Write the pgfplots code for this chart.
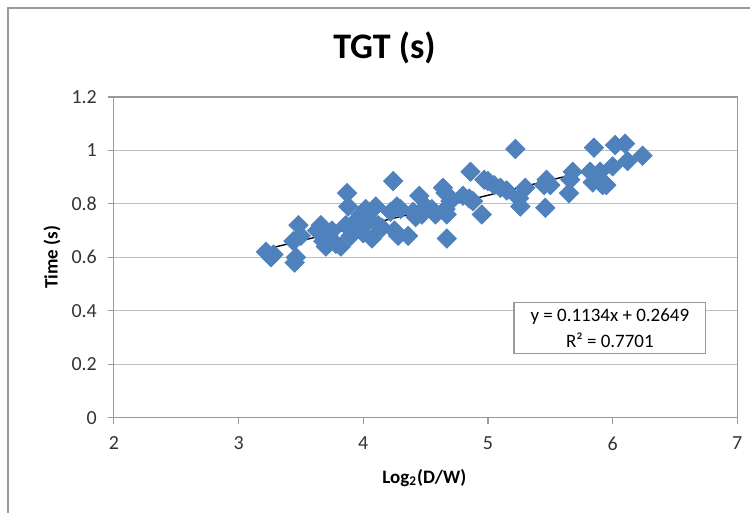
\documentclass[border=0pt]{standalone}
\usepackage{pgfplots}
\pgfplotsset{compat=1.18}
\usepackage{fontspec}
\setmainfont{Carlito}
\definecolor{xlblue}{HTML}{4F81BD}
\definecolor{xlgrid}{HTML}{BEBEBE}
\definecolor{xlaxis}{HTML}{9A9A9A}

\pgfplotstableread{
x y
3.22 0.62
3.26 0.60
3.28 0.61
3.45 0.58
3.46 0.60
3.44 0.66
3.48 0.72
3.50 0.68
3.63 0.70
3.66 0.72
3.68 0.66
3.70 0.64
3.72 0.68
3.75 0.70
3.78 0.65
3.82 0.64
3.87 0.84
3.88 0.79
3.86 0.72
3.90 0.68
3.92 0.70
3.95 0.74
3.98 0.76
4.00 0.69
4.02 0.78
4.05 0.74
4.07 0.67
4.10 0.79
4.12 0.72
4.15 0.71
4.22 0.77
4.24 0.885
4.25 0.70
4.27 0.79
4.30 0.78
4.28 0.68
4.36 0.68
4.40 0.77
4.42 0.75
4.45 0.83
4.47 0.76
4.50 0.79
4.55 0.78
4.58 0.76
4.64 0.86
4.66 0.84
4.66 0.78
4.67 0.76
4.67 0.67
4.70 0.81
4.80 0.83
4.86 0.92
4.85 0.82
4.88 0.81
4.95 0.76
4.97 0.89
5.00 0.885
5.05 0.87
5.10 0.86
5.15 0.85
5.22 1.005
5.25 0.82
5.26 0.79
5.30 0.86
5.45 0.87
5.47 0.89
5.46 0.785
5.50 0.87
5.65 0.84
5.66 0.89
5.68 0.92
5.82 0.92
5.85 1.01
5.84 0.88
5.88 0.90
5.90 0.92
5.92 0.87
5.95 0.87
6.00 0.94
6.02 1.02
6.10 1.025
6.12 0.96
6.24 0.98
}\tgtdata

\begin{document}
\begin{tikzpicture}
\begin{axis}[
  scale only axis,
  width=312pt,
  height=160.5pt,
  xmin=2, xmax=7,
  ymin=0, ymax=1.2,
  xtick={2,3,4,5,6,7},
  ytick={0,0.2,0.4,0.6,0.8,1,1.2},
  yticklabels={0,0.2,0.4,0.6,0.8,1,1.2},
  /pgf/number format/assume math mode=true,
  tick label style={font=\fontsize{10}{12}\selectfont, text=black!80},
  xticklabel style={yshift=-3pt},
  yticklabel style={xshift=-2pt},
  tick align=outside,
  major tick length=3pt,
  tick style={xlaxis, line width=0.6pt},
  axis line style={xlaxis, line width=0.6pt},
  ymajorgrids,
  major grid style={xlgrid, line width=0.6pt},
  xtick pos=bottom, ytick pos=left,
  title={TGT (s)},
  title style={font=\fontsize{18}{20}\selectfont\bfseries, at={(rel axis cs:0.434,1.116)}, anchor=center},
  xlabel={Log\textsubscript{2}(D/W)},
  xlabel style={font=\fontsize{9.5}{11}\selectfont\bfseries, at={(rel axis cs:0.498,-0.187)}, anchor=center},
  ylabel={Time (s)},
  ylabel style={font=\fontsize{9.5}{11}\selectfont\bfseries, at={(rel axis cs:-0.0994,0.5)}, anchor=center, rotate=0},
  clip=false,
]
\addplot[only marks, mark=square*, mark size=3.4pt,
  mark options={rotate=45, fill=xlblue, draw=xlblue}] table {\tgtdata};
\addplot[black, line width=0.7pt, no marks] coordinates {(3.22,0.6300) (6.24,0.9725)};
\node[draw=xlaxis, fill=white, line width=0.6pt, align=center,
  font=\fontsize{9.5}{13}\selectfont, inner sep=3pt, minimum width=96pt]
  at (axis cs:5.978,0.336) {y = 0.1134x + 0.2649\\R² = 0.7701};
\end{axis}
\draw[xlaxis, line width=0.7pt] (-53pt,-47.5pt) -- (-53pt,205pt) -- (318.5pt,205pt);
\path[use as bounding box] (-57pt,-47.5pt) rectangle (318.5pt,209pt);
\end{tikzpicture}
\end{document}
